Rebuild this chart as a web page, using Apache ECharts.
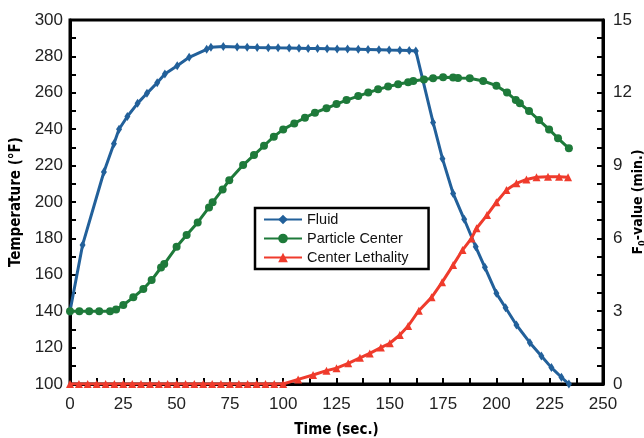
<!DOCTYPE html>
<html><head><meta charset="utf-8">
<script src="https://cdn.jsdelivr.net/npm/echarts@6/dist/echarts.min.js"></script>
<style>html,body{margin:0;padding:0;background:#fff}#c{width:644px;height:438px}</style>
</head><body><div id="c"></div>
<script>
const fluidTime = [0,5.9,15.9,20.6,23,26.9,31.7,36.1,40.9,44.5,50.3,55.9,64.1,66.1,71.9,78.4,83.1,87.8,93,97.6,102.8,107.4,111.7,116.1,120.6,125.3,130.2,135.2,139.8,144.9,149.7,154.7,159.1,162.2,170.3,174.7,179.7,184.9,190.3,194.6,200,204.3,209.4,215.7,221.1,225.8,230.5,234];
const fluidTemp = [140,176.4,216.5,232,240,247,254.2,259.7,265.5,270.3,274.9,279.5,283.9,285,285.4,285.1,285,284.9,284.8,284.7,284.6,284.5,284.4,284.3,284.2,284.1,284,283.9,283.8,283.7,283.5,283.4,283.2,283.0,243.7,223.8,204.7,190.5,175.4,164.1,149.8,141.9,132.4,122.7,115.4,109,103.7,100];
const particleTime = [0,4.4,9,13.7,18.8,21.6,25,29.7,34.4,38.3,42.7,44.2,50,54.7,59.9,65.2,66.9,71.6,74.7,81.2,86.3,91,95.6,100,105.2,110.2,114.9,120.3,125,129.7,135.2,139.9,144.5,149.2,153.9,158.6,161,166,170.3,175,179.7,182,187.5,193.8,200,205,209.1,211,215.3,220,224.7,228.9,234];
const particleTemp = [140,140,140,140,140,141,143.4,147.6,152.2,157.1,164,165.9,175.4,181.9,188.8,197,199.8,206.9,212,220.3,225.8,230.9,235.9,239.9,243.2,246.3,249.1,251.5,253.8,256,258.2,260.1,261.9,263.4,264.7,265.8,266.5,267.3,268,268.5,268.4,268.1,268,266.5,263.9,260.1,256,254.2,250,245,239.9,235,229.5];
const lethalTime = [0,4.2,8.3,12.5,16.7,20.8,25,29.2,33.3,37.5,41.7,45.8,50,54.2,58.3,62.5,66.7,70.8,75,79.2,83.3,87.5,91.7,95.8,100,107,114,120.3,125,130.5,136,140.6,145.8,150,154.7,158.6,163.6,169.6,174.5,179.7,184.1,188.3,190.7,195.6,200,204.7,209.4,214.1,218.8,224.2,229.4,233.6];
const lethalF = [0,0,0,0,0,0,0,0,0,0,0,0,0,0,0,0,0,0,0,0,0,0,0,0,0,0.19,0.37,0.55,0.65,0.85,1.08,1.26,1.5,1.68,2.02,2.39,3.02,3.57,4.19,4.9,5.52,6.0,6.42,6.96,7.49,7.99,8.27,8.43,8.52,8.54,8.54,8.52];
const seriesNames = ['Fluid','Particle Center','Center Lethality'];

const zip = (a,b) => a.map((v,i)=>[v,b[i]]);
const FONT = '"Liberation Sans", Arial, sans-serif';
const NAMEFONT = '"DejaVu Sans Condensed", "Liberation Sans Narrow", sans-serif';
const axisCommon = {
  nameMoveOverlap:false,
  axisLine:{show:true,lineStyle:{color:'#000',width:3}},
  axisTick:{show:true,inside:true,length:6,lineStyle:{color:'#000',width:2}},
  minorTick:{show:true,length:6,lineStyle:{color:'#000',width:2}},
  splitLine:{show:false},
  axisLabel:{color:'#222',fontFamily:FONT,fontSize:17},
  nameTextStyle:{color:'#000',fontFamily:NAMEFONT,fontWeight:'bold',fontSize:15}
};
const chart = echarts.init(document.getElementById('c'),null,{renderer:'canvas'});
chart.setOption({
  animation:false,
  grid:{left:70,right:41,top:20,bottom:54,containLabel:false,outerBoundsMode:'none',show:true,borderColor:'#000',borderWidth:3,backgroundColor:'transparent'},
  legend:{
    orient:'vertical',left:255,top:208,
    data:seriesNames,
    borderColor:'#000',borderWidth:2.5,padding:[4,20,4,8],itemGap:4,
    itemWidth:38,itemHeight:12,
    textStyle:{fontFamily:FONT,fontSize:14.5,color:'#111'}
  },
  xAxis:Object.assign({},axisCommon,{type:'value',min:0,max:250,interval:25,
    minorTick:Object.assign({},axisCommon.minorTick,{splitNumber:2}),
    name:'Time (sec.)',nameLocation:'middle',nameGap:39,
    axisLabel:Object.assign({},axisCommon.axisLabel,{margin:12})}),
  yAxis:[
    Object.assign({},axisCommon,{type:'value',min:100,max:300,interval:20,
      minorTick:Object.assign({},axisCommon.minorTick,{splitNumber:2}),
      name:'Temperature (°F)',nameLocation:'middle',nameGap:46,nameRotate:90,
      axisLabel:Object.assign({},axisCommon.axisLabel,{margin:7})}),
    Object.assign({},axisCommon,{type:'value',min:0,max:15,interval:3,position:'right',
      minorTick:Object.assign({},axisCommon.minorTick,{splitNumber:4}),
      name:'F{s|0}-value (min.)',nameLocation:'middle',nameGap:27,nameRotate:90,
      nameTextStyle:Object.assign({},axisCommon.nameTextStyle,{fontSize:14,rich:{s:{fontFamily:NAMEFONT,fontWeight:'bold',fontSize:9,verticalAlign:'bottom',padding:[8,0,0,0]}}}),
      axisLabel:Object.assign({},axisCommon.axisLabel,{margin:10})})
  ],
  series:[
    {name:seriesNames[0],type:'line',yAxisIndex:0,data:zip(fluidTime,fluidTemp),
      symbol:'diamond',symbolSize:[6,9],color:'#22609a',lineStyle:{width:3,color:'#22609a'},itemStyle:{color:'#22609a'}},
    {name:seriesNames[1],type:'line',yAxisIndex:0,data:zip(particleTime,particleTemp),
      symbol:'circle',symbolSize:8,color:'#1e7a3a',lineStyle:{width:3,color:'#1e7a3a'},itemStyle:{color:'#1e7a3a'}},
    {name:seriesNames[2],type:'line',yAxisIndex:1,data:zip(lethalTime,lethalF),
      symbol:'triangle',symbolSize:8,color:'#ef3b2c',lineStyle:{width:3,color:'#ef3b2c'},itemStyle:{color:'#ef3b2c'}}
  ]
});
</script></body></html>
